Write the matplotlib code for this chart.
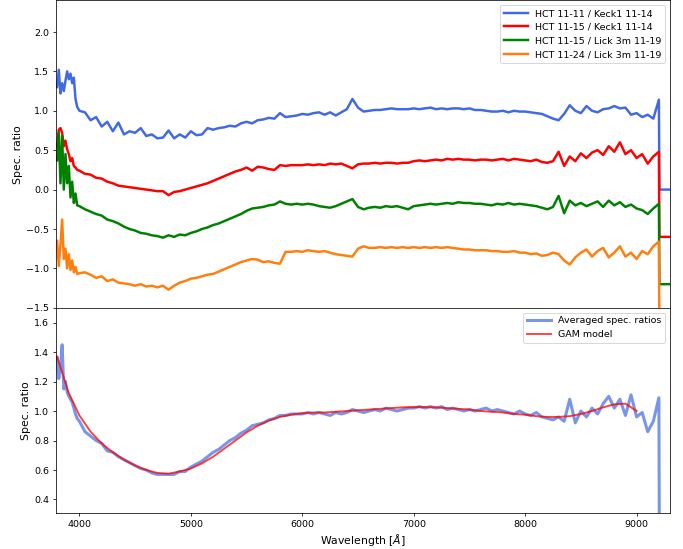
from matplotlib import pyplot as plt
import numpy as np

# wavelength grid of the spectra (Angstrom)
wl_start = [3800, 3815, 3830, 3845, 3860, 3875, 3890, 3905, 3920, 3935, 3950, 3965, 3980]
wl = np.r_[wl_start, np.arange(4000, 9201, 50)]
wl_tail = [9205, 9300]

labels = ["HCT 11-11 / Keck1 11-14", "HCT 11-15 / Keck1 11-14",
          "HCT 11-15 / Lick 3m 11-19", "HCT 11-24 / Lick 3m 11-19"]
colors = ["royalblue", "red", "green", "#ff7f0e"]
offsets = [0.0, -0.6, -1.2, -1.8]

# spec. ratios with the offset applied (as drawn in the top panel)
blue_curve = [
    1.30, 1.52, 1.22, 1.35, 1.25, 1.38, 1.50, 1.40, 1.47, 1.35, 1.42, 1.15, 1.05,
    1.00, 0.98, 0.88, 0.92, 0.80, 0.86, 0.74, 0.85, 0.70, 0.74,
    0.72, 0.78, 0.68, 0.70, 0.65, 0.66, 0.75, 0.65, 0.70, 0.66,
    0.74, 0.69, 0.70, 0.78, 0.76, 0.78, 0.79, 0.81, 0.80, 0.84,
    0.86, 0.84, 0.88, 0.89, 0.91, 0.90, 0.97, 0.92, 0.93, 0.94,
    0.96, 0.95, 0.97, 0.98, 0.95, 0.98, 0.94, 0.98, 1.02, 1.15,
    1.04, 0.99, 1.00, 1.01, 1.01, 1.02, 1.03, 1.02, 1.02, 1.02,
    1.03, 1.02, 1.03, 1.04, 1.02, 1.03, 1.02, 1.03, 1.03, 1.02,
    1.03, 1.01, 1.01, 1.00, 0.99, 0.99, 1.00, 0.98, 1.00, 0.99,
    0.99, 0.98, 0.97, 0.96, 0.93, 0.90, 0.88, 0.96, 1.07, 1.00,
    0.97, 1.06, 1.00, 0.98, 1.02, 1.03, 1.06, 1.03, 1.04, 0.95,
    0.97, 0.92, 0.95, 0.90, 1.14,
]
red_curve = [
    0.54, 0.76, 0.78, 0.72, 0.55, 0.62, 0.51, 0.45, 0.36, 0.40, 0.30, 0.28, 0.25,
    0.24, 0.20, 0.19, 0.15, 0.14, 0.10, 0.08, 0.05, 0.04, 0.03,
    0.02, 0.01, 0.00, -0.01, -0.02, -0.02, -0.07, -0.03, -0.02, 0.00,
    0.02, 0.04, 0.06, 0.08, 0.11, 0.14, 0.17, 0.20, 0.23, 0.25,
    0.28, 0.24, 0.29, 0.28, 0.26, 0.25, 0.31, 0.30, 0.31, 0.31,
    0.31, 0.32, 0.31, 0.32, 0.31, 0.33, 0.32, 0.33, 0.30, 0.27,
    0.32, 0.33, 0.33, 0.34, 0.33, 0.34, 0.34, 0.33, 0.34, 0.34,
    0.36, 0.37, 0.36, 0.37, 0.38, 0.37, 0.39, 0.38, 0.39, 0.38,
    0.38, 0.37, 0.38, 0.38, 0.37, 0.38, 0.39, 0.37, 0.39, 0.38,
    0.37, 0.36, 0.38, 0.35, 0.34, 0.36, 0.48, 0.30, 0.42, 0.36,
    0.46, 0.40, 0.47, 0.50, 0.44, 0.55, 0.48, 0.60, 0.45, 0.50,
    0.40, 0.45, 0.33, 0.42, 0.48,
]
green_curve = [
    0.37, 0.72, 0.08, 0.68, 0.00, 0.45, 0.08, 0.30, -0.10, 0.10, -0.17, -0.05, -0.20,
    -0.21, -0.25, -0.28, -0.31, -0.33, -0.38, -0.40, -0.43, -0.47, -0.50,
    -0.52, -0.55, -0.56, -0.58, -0.59, -0.61, -0.58, -0.60, -0.57, -0.58,
    -0.55, -0.53, -0.50, -0.48, -0.45, -0.43, -0.40, -0.37, -0.34, -0.31,
    -0.27, -0.24, -0.23, -0.22, -0.20, -0.19, -0.15, -0.18, -0.19, -0.18,
    -0.19, -0.18, -0.19, -0.21, -0.22, -0.23, -0.21, -0.18, -0.15, -0.12,
    -0.22, -0.25, -0.23, -0.22, -0.23, -0.21, -0.22, -0.21, -0.23, -0.25,
    -0.21, -0.20, -0.19, -0.18, -0.19, -0.18, -0.17, -0.18, -0.16, -0.17,
    -0.17, -0.18, -0.18, -0.19, -0.20, -0.18, -0.19, -0.17, -0.19, -0.18,
    -0.19, -0.20, -0.21, -0.23, -0.25, -0.22, -0.08, -0.30, -0.14, -0.20,
    -0.17, -0.21, -0.18, -0.15, -0.22, -0.14, -0.20, -0.16, -0.22, -0.19,
    -0.24, -0.26, -0.31, -0.24, -0.18,
]
orange_curve = [
    -0.65, -0.97, -0.70, -0.38, -0.88, -0.75, -1.00, -0.82, -1.02, -0.90, -1.05, -0.98, -1.07,
    -1.06, -1.05, -1.08, -1.12, -1.10, -1.16, -1.14, -1.18, -1.19, -1.20,
    -1.22, -1.20, -1.23, -1.22, -1.24, -1.22, -1.27, -1.22, -1.18, -1.16,
    -1.13, -1.12, -1.10, -1.08, -1.07, -1.04, -1.01, -0.98, -0.95, -0.92,
    -0.90, -0.88, -0.89, -0.92, -0.91, -0.93, -0.94, -0.79, -0.79, -0.78,
    -0.79, -0.77, -0.78, -0.79, -0.78, -0.80, -0.82, -0.83, -0.84, -0.85,
    -0.75, -0.72, -0.74, -0.74, -0.73, -0.74, -0.73, -0.74, -0.73, -0.74,
    -0.73, -0.74, -0.73, -0.74, -0.73, -0.74, -0.73, -0.74, -0.75, -0.76,
    -0.76, -0.77, -0.77, -0.77, -0.78, -0.78, -0.79, -0.79, -0.78, -0.80,
    -0.80, -0.82, -0.81, -0.84, -0.83, -0.80, -0.82, -0.90, -0.95, -0.86,
    -0.80, -0.76, -0.85, -0.78, -0.74, -0.86, -0.80, -0.72, -0.85, -0.80,
    -0.88, -0.78, -0.82, -0.72, -0.66,
]
curves = [blue_curve, red_curve, green_curve, orange_curve]

avg_ratio = [
    1.36, 1.22, 1.30, 1.45, 1.15, 1.20, 1.13, 1.10, 1.08, 1.06, 1.02, 0.98, 0.95,
    0.93, 0.86, 0.83, 0.80, 0.78, 0.73, 0.72, 0.69, 0.67, 0.65,
    0.63, 0.61, 0.60, 0.58, 0.57, 0.57, 0.57, 0.57, 0.59, 0.59,
    0.62, 0.64, 0.66, 0.69, 0.72, 0.74, 0.77, 0.80, 0.82, 0.85,
    0.87, 0.90, 0.91, 0.92, 0.94, 0.95, 0.97, 0.97, 0.98, 0.98,
    0.98, 0.99, 0.98, 0.99, 0.98, 0.97, 0.99, 0.98, 0.99, 1.01,
    1.00, 0.99, 1.00, 1.01, 1.00, 1.02, 1.01, 1.00, 1.01, 1.02,
    1.02, 1.03, 1.02, 1.03, 1.02, 1.03, 1.01, 1.02, 1.01, 1.00,
    1.01, 1.00, 1.01, 1.02, 1.00, 1.01, 1.00, 0.99, 0.98, 1.00,
    0.98, 0.97, 0.99, 0.96, 0.95, 0.94, 0.96, 0.93, 1.08, 0.92,
    1.00, 0.96, 1.02, 0.98, 1.05, 1.10, 1.02, 1.08, 0.97, 1.11,
    0.96, 0.99, 0.86, 0.93, 1.09,
]

gam_wl = np.arange(3800, 9001, 100)
gam_model = [
    1.37, 1.13, 0.97, 0.86, 0.78, 0.72, 0.67, 0.63, 0.60, 0.58,
    0.575, 0.59, 0.61, 0.645, 0.69, 0.745, 0.80, 0.855, 0.90, 0.935,
    0.96, 0.975, 0.985, 0.99, 0.99, 0.995, 1.0, 1.005, 1.01, 1.015,
    1.02, 1.025, 1.027, 1.027, 1.025, 1.02, 1.015, 1.01, 1.0, 0.995,
    0.99, 0.98, 0.975, 0.965, 0.96, 0.96, 0.965, 0.98, 1.0, 1.025,
    1.045, 1.05, 1.0,
]

fig, (ax1, ax2) = plt.subplots(2, 1, sharex=True, figsize=(10, 8.04), dpi=68.3,
                               gridspec_kw={"height_ratios": [3, 2]})
fig.subplots_adjust(left=0.082, right=0.981, top=0.999, bottom=0.066, hspace=0)

for curve, off, col, lab in zip(curves, offsets, colors, labels):
    x = np.r_[wl, wl_tail]
    y = np.r_[curve, [off, off]]
    ax1.plot(x, y, color=col, lw=2.6, label=lab)

ax1.set_ylim(-1.5, 2.4)
ax1.set_yticks([-1.5, -1.0, -0.5, 0.0, 0.5, 1.0, 1.5, 2.0])
ax1.set_ylabel("Spec. ratio", fontsize=11.5)
ax1.legend(loc="upper right", handlelength=2.5)

ax2.plot(np.r_[wl, wl_tail], np.r_[avg_ratio, [0, 0]], color="royalblue",
         lw=3.2, alpha=0.7, label="Averaged spec. ratios")
ax2.plot(gam_wl, gam_model, color="red", lw=2, alpha=0.75, label="GAM model")
ax2.set_ylim(0.31, 1.70)
ax2.set_yticks([0.4, 0.6, 0.8, 1.0, 1.2, 1.4, 1.6])
ax2.set_xlim(3790, 9300)
ax2.set_xticks([4000, 5000, 6000, 7000, 8000, 9000])
ax2.set_ylabel("Spec. ratio", fontsize=11.5)
ax2.set_xlabel(r"Wavelength [$\AA$]", fontsize=11.5)
ax2.legend(loc="upper right", handlelength=2.5)

plt.savefig("out.png", dpi=68.3)
